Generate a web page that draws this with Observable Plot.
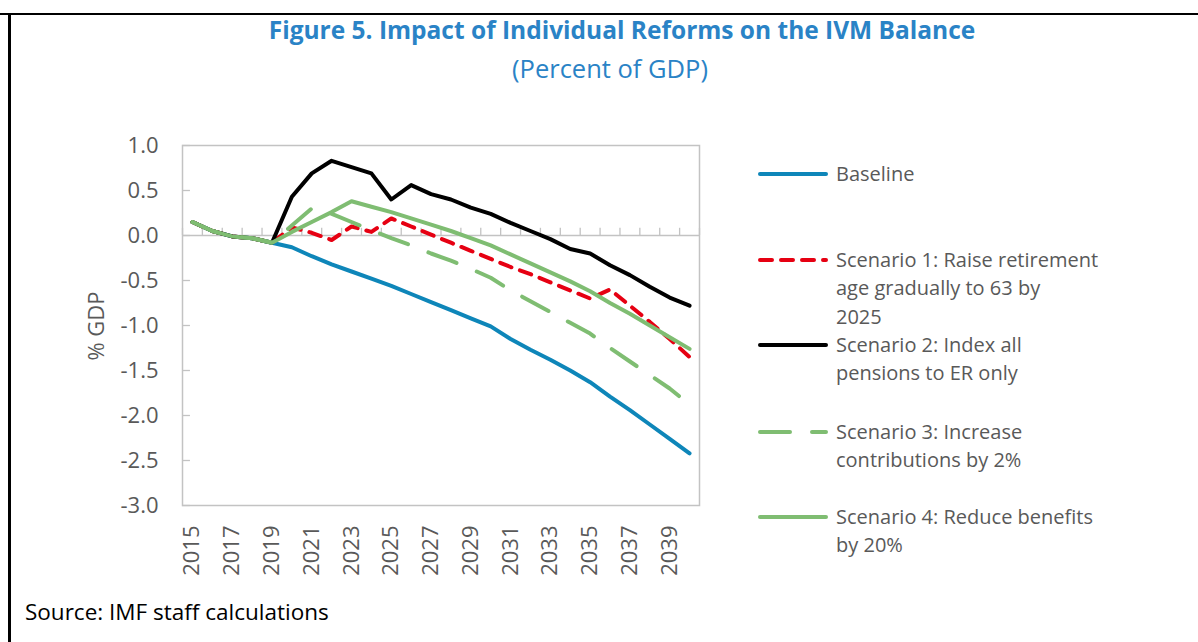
<!DOCTYPE html>
<html>
<head>
<meta charset="utf-8">
<script src="https://cdn.jsdelivr.net/npm/d3@7"></script>
<script src="https://cdn.jsdelivr.net/npm/@observablehq/plot@0.6"></script>
<style>
  html, body { margin: 0; padding: 0; background: #fff; }
  #wrap { position: relative; width: 1198px; height: 642px; overflow: hidden; background: #fff; font-family: "Open Sans", sans-serif; }
  #chart { position: absolute; left: 0; top: 0; }
  .title { position: absolute; left: 46px; width: 1152px; top: 14.5px; line-height: 30px; text-align: center; font-size: 24.5px; font-weight: bold; color: #2a83c6; white-space: nowrap; }
  .subtitle { position: absolute; left: 10px; width: 1200px; top: 53px; line-height: 30px; text-align: center; font-size: 25.5px; color: #2a83c6; white-space: nowrap; }
  .source { position: absolute; left: 25px; top: 598px; line-height: 28px; font-size: 22.5px; color: #000; white-space: nowrap; }
  .ylab { position: absolute; left: 95px; top: 326px; width: 0; height: 0; }
  .ylab div { position: absolute; left: 0; top: 0; transform-origin: 0 0; transform: rotate(-90deg) translate(-50%, -50%); font-size: 22px; line-height: 26px; color: #595959; white-space: nowrap; }
  .leg { position: absolute; left: 757px; font-size: 20px; line-height: 28.4px; color: #595959; white-space: nowrap; }
  .leg svg { position: absolute; left: 0; top: 0; }
  .leg .txt { position: absolute; left: 79px; top: 0; }
  .bord { position: absolute; background: #000; }
</style>
</head>
<body>
<div id="wrap">
  <div id="chart"></div>
  <div class="title" id="title"></div>
  <div class="subtitle" id="subtitle"></div>
  <div class="ylab"><div id="ylab"></div></div>
  <div id="legend"></div>
  <div class="source" id="source"></div>
  <div class="bord" style="left:0;top:12.5px;width:1198px;height:2.6px"></div>
  <div class="bord" style="left:8.3px;top:12.5px;width:2.5px;height:640px"></div>
</div>
<script>
// ---- Data ----
const titleText = "Figure 5. Impact of Individual Reforms on the IVM Balance";
const subtitleText = "(Percent of GDP)";
const sourceText = "Source: IMF staff calculations";
const yLabel = "% GDP";

const years = [2015, 2016, 2017, 2018, 2019, 2020, 2021, 2022, 2023, 2024, 2025, 2026, 2027,
               2028, 2029, 2030, 2031, 2032, 2033, 2034, 2035, 2036, 2037, 2038, 2039, 2040];
const xTickLabels = [2015, 2017, 2019, 2021, 2023, 2025, 2027, 2029, 2031, 2033, 2035, 2037, 2039];
const yTicks = [-3.0, -2.5, -2.0, -1.5, -1.0, -0.5, 0.0, 0.5, 1.0];

const baseline = [0.15, 0.05, -0.01, -0.03, -0.08, -0.13, -0.23, -0.32, -0.40, -0.48, -0.56, -0.65, -0.74,
                  -0.83, -0.92, -1.01, -1.15, -1.27, -1.38, -1.50, -1.63, -1.79, -1.94, -2.10, -2.26, -2.42];
const scenario1 = [0.15, 0.05, -0.01, -0.03, -0.08, 0.09, 0.03, -0.05, 0.10, 0.04, 0.19, 0.10, 0.01,
                   -0.08, -0.17, -0.26, -0.35, -0.43, -0.52, -0.61, -0.70, -0.60, -0.78, -0.96, -1.15, -1.35];
const scenario2 = [0.15, 0.05, -0.01, -0.03, -0.08, 0.43, 0.69, 0.83, 0.76, 0.69, 0.40, 0.56, 0.46,
                   0.40, 0.31, 0.24, 0.14, 0.05, -0.04, -0.15, -0.20, -0.33, -0.44, -0.57, -0.69, -0.78];
const scenario3 = [0.15, 0.05, -0.01, -0.03, -0.08, 0.11, 0.30, 0.24, 0.15, 0.06, -0.03, -0.11, -0.20,
                   -0.28, -0.37, -0.47, -0.61, -0.73, -0.85, -0.97, -1.09, -1.25, -1.40, -1.55, -1.70, -1.88];
const scenario4 = [0.15, 0.05, -0.01, -0.03, -0.08, 0.04, 0.15, 0.26, 0.38, 0.32, 0.26, 0.19, 0.12,
                   0.05, -0.03, -0.11, -0.21, -0.31, -0.41, -0.51, -0.62, -0.75, -0.87, -1.00, -1.13, -1.26];

const seriesNames = [
  ["Baseline"],
  ["Scenario 1: Raise retirement", "age gradually to 63 by", "2025"],
  ["Scenario 2: Index all", "pensions to ER only"],
  ["Scenario 3: Increase", "contributions by 2%"],
  ["Scenario 4: Reduce benefits", "by 20%"]
];
const seriesValues = [baseline, scenario1, scenario2, scenario3, scenario4];
const seriesColors = ["#0e86b9", "#e60012", "#000000", "#7fbd72", "#7fbd72"];
const seriesDash = [null, "12,9", null, "30,22", null];
const legendBaselines = [182, 268, 353, 440, 525];

// ---- Chart ----
const gridColor = "#c3c3c3";
const xMin = years[0] - 0.5;
const xMax = years[years.length - 1] + 0.5;
const boundaries = years.map(y => y - 0.5).concat([xMax]);

const lineMarks = seriesValues.map((vals, k) =>
  Plot.line(years.map((yr, i) => ({year: yr, value: vals[i]})), {
    x: "year", y: "value",
    stroke: seriesColors[k],
    strokeWidth: 4,
    strokeDasharray: seriesDash[k] || undefined,
    strokeLinecap: "round",
    strokeLinejoin: "round"
  })
);

const chart = Plot.plot({
  width: 720,
  height: 600,
  marginLeft: 182,
  marginRight: 21,
  marginTop: 145,
  marginBottom: 95,
  x: {domain: [xMin, xMax]},
  y: {domain: [-3, 1]},
  style: {fontFamily: "'Open Sans', sans-serif", fontSize: "22px", color: "#595959", background: "transparent", overflow: "visible"},
  marks: [
    Plot.frame({stroke: gridColor, strokeWidth: 1.5}),
    Plot.ruleY([0], {stroke: gridColor, strokeWidth: 1.7}),
    Plot.ruleX(boundaries, {x: d => d, y1: 0, y2: 0.08, stroke: gridColor, strokeWidth: 1.3}),
    Plot.ruleY(yTicks, {y: d => d, x1: xMin, x2: xMin + 0.4, stroke: gridColor, strokeWidth: 1.3}),
    Plot.axisY({ticks: yTicks, tickSize: 0, tickPadding: 24, tickFormat: d => d.toFixed(1), label: null}),
    Plot.axisX({ticks: xTickLabels, tickSize: 0, tickRotate: -90, tickPadding: 20, tickFormat: d => String(d), label: null}),
    ...lineMarks
  ]
});
document.getElementById("chart").appendChild(chart);

// ---- Texts ----
document.getElementById("title").textContent = titleText;
document.getElementById("subtitle").textContent = subtitleText;
document.getElementById("source").textContent = sourceText;
document.getElementById("ylab").textContent = yLabel;

// ---- Legend ----
const legend = document.getElementById("legend");
seriesNames.forEach((lines, k) => {
  const div = document.createElement("div");
  div.className = "leg";
  div.style.top = (legendBaselines[k] - 22) + "px";
  const ns = "http://www.w3.org/2000/svg";
  const svg = document.createElementNS(ns, "svg");
  svg.setAttribute("width", 74);
  svg.setAttribute("height", 30);
  const ln = document.createElementNS(ns, "line");
  ln.setAttribute("x1", 3); ln.setAttribute("x2", 69);
  ln.setAttribute("y1", 14); ln.setAttribute("y2", 14);
  ln.setAttribute("stroke", seriesColors[k]);
  ln.setAttribute("stroke-width", 4);
  ln.setAttribute("stroke-linecap", "round");
  if (seriesDash[k]) ln.setAttribute("stroke-dasharray", seriesDash[k]);
  svg.appendChild(ln);
  div.appendChild(svg);
  const txt = document.createElement("div");
  txt.className = "txt";
  lines.forEach((l, j) => {
    if (j) txt.appendChild(document.createElement("br"));
    txt.appendChild(document.createTextNode(l));
  });
  div.appendChild(txt);
  legend.appendChild(div);
});
</script>
</body>
</html>
